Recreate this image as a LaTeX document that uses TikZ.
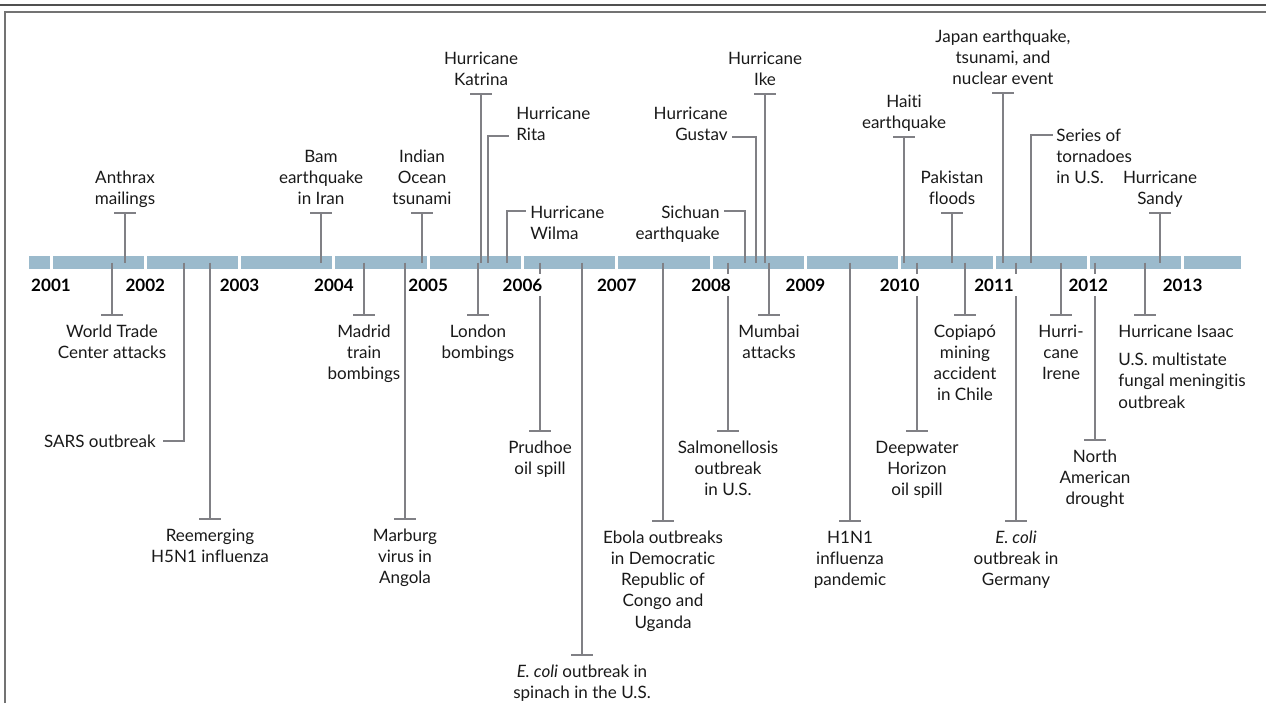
\documentclass[tikz,border=0pt]{standalone}
\usepackage{fontspec}
\setmainfont{Lato}[Ligatures=NoCommon]
\usepackage{xcolor}
\usepackage{tikz}
\usetikzlibrary{arrows.meta,positioning}
\definecolor{barra}{RGB}{155,186,204}
\definecolor{linea}{RGB}{128,128,133}
\definecolor{marco}{RGB}{80,80,80}
\definecolor{texto}{RGB}{25,25,25}

\begin{document}
\begin{tikzpicture}[x=0.02cm,y=-0.02cm,
ev/.style={font=\fontsize{9.7}{12}\selectfont,text=texto,inner sep=0pt,align=center},
evup/.style={ev,anchor=south,yshift=4pt,text depth=0pt},
evdn/.style={ev,anchor=north,yshift=-5pt},
stem/.style={draw=linea,line width=1.25pt},
tope/.style={stem,-{Bar[width=12pt]}},
anio/.style={font=\fontsize{9.7}{11}\selectfont\bfseries,text=black,fill=white,inner xsep=2pt,inner ysep=2.5pt},
seg/.style={fill=barra}
]
\useasboundingbox (0,0) rectangle (1266,703);
\draw[marco,line width=1.3pt] (0,5) -- (1266,5);
\draw[marco!80,line width=0.9pt] (5,703) -- (5,12) -- (1266,12);

% barra de tiempo
\fill[seg] (29,256) rectangle (49.5,269);
\foreach \i in {0,...,11}
  \fill[seg] ({52.5+\i*94.3},256) rectangle ({49.5+(\i+1)*94.3},269);
\fill[seg] (1184,256) rectangle (1241,269);
\coordinate (barc) at (0,262.5);

% eventos arriba
\node[evup] (anthrax) at (125,212) {Anthrax\\mailings};
\node[evup] (bam) at (321,212) {Bam\\earthquake\\in Iran};
\node[evup] (tsunami) at (422,212) {Indian\\Ocean\\tsunami};
\node[evup] (katrina) at (481,93) {Hurricane\\Katrina};
\node[evup] (ike) at (765,93) {Hurricane\\Ike};
\node[evup] (haiti) at (904,136) {Haiti\\earthquake};
\node[evup] (pakistan) at (952,212) {Pakistan\\floods};
\node[evup] (japan) at (1003,92) {Japan earthquake,\\tsunami, and\\nuclear event};
\node[evup] (sandy) at (1160,212) {Hurricane\\Sandy};

% eventos con codo
\coordinate (rita-k) at (488,136);
\node[ev,align=left,anchor=south west,text depth=0pt] (rita) at (516,141) {Hurricane\\Rita};
\coordinate (wilma-k) at (507,211);
\node[ev,align=left,anchor=north west] (wilma) at (530,206) {Hurricane\\Wilma};
\coordinate (sichuan-k) at (745,211);
\node[ev,align=right,anchor=north east] (sichuan) at (720,206) {Sichuan\\earthquake};
\coordinate (gustav-k) at (756,137);
\node[ev,align=right,anchor=south east,text depth=0pt] (gustav) at (728,141) {Hurricane\\Gustav};
\coordinate (tornados-k) at (1031,135);
\node[ev,align=left,anchor=north west] (tornados) at (1056,129) {Series of\\tornadoes\\in U.S.};
\coordinate (sars-k) at (184,441);
\node[ev,anchor=east] (sars) at (156,441) {SARS outbreak};

% eventos abajo
\node[evdn] (wtc) at (112,316) {World Trade\\Center attacks};
\node[evdn] (madrid) at (364,316) {Madrid\\train\\bombings};
\node[evdn] (london) at (478,316) {London\\bombings};
\node[evdn] (mumbai) at (769,316) {Mumbai\\attacks};
\node[evdn] (copiapo) at (965,316) {Copiapó\\mining\\accident\\in Chile};
\node[evdn] (irene) at (1061,316) {Hurri-\\cane\\Irene};
\coordinate (isaac-t) at (1145,316);
\node[evdn,anchor=north west,align=left] (isaac) at (1118,316) {Hurricane Isaac};
\node[ev,align=left,anchor=north west] (fungal) at (1118,353) {U.S. multistate\\fungal meningitis\\outbreak};
\node[evdn] (prudhoe) at (540,432) {Prudhoe\\oil spill};
\node[evdn] (salmonella) at (728,432) {Salmonellosis\\outbreak\\in U.S.};
\node[evdn] (deepwater) at (917,432) {Deepwater\\Horizon\\oil spill};
\node[evdn] (drought) at (1095,441) {North\\American\\drought};
\node[evdn] (reemerging) at (210,520) {Reemerging\\H5N1 influenza};
\node[evdn] (marburg) at (405,520) {Marburg\\virus in\\Angola};
\node[evdn] (ebola) at (663,522) {Ebola outbreaks\\in Democratic\\Republic of\\Congo and\\Uganda};
\node[evdn] (h1n1) at (850,522) {H1N1\\influenza\\pandemic};
\node[evdn] (ecolide) at (1016,522) {\textit{E. coli}\\outbreak in\\Germany};
\node[evdn] (ecolius) at (582,656) {\textit{E. coli} outbreak in\\spinach in the U.S.};

% lineas
\draw[tope] (anthrax.south |- barc) -- ([yshift=-4pt]anthrax.south);
\draw[tope] (bam.south |- barc) -- ([yshift=-4pt]bam.south);
\draw[tope] (tsunami.south |- barc) -- ([yshift=-4pt]tsunami.south);
\draw[tope] (katrina.south |- barc) -- ([yshift=-4pt]katrina.south);
\draw[tope] (ike.south |- barc) -- ([yshift=-4pt]ike.south);
\draw[tope] (haiti.south |- barc) -- ([yshift=-4pt]haiti.south);
\draw[tope] (pakistan.south |- barc) -- ([yshift=-4pt]pakistan.south);
\draw[tope] (japan.south |- barc) -- ([yshift=-4pt]japan.south);
\draw[tope] (sandy.south |- barc) -- ([yshift=-4pt]sandy.south);
\draw[stem] (rita-k |- barc) |- ([xshift=-4pt]rita.west |- rita-k);
\draw[stem] (wilma-k |- barc) |- ([xshift=-2pt]wilma.west |- wilma-k);
\draw[stem] (sichuan-k |- barc) |- ([xshift=2pt]sichuan.east |- sichuan-k);
\draw[stem] (gustav-k |- barc) |- ([xshift=2pt]gustav.east |- gustav-k);
\draw[stem] (tornados-k |- barc) |- ([xshift=-2pt]tornados.west |- tornados-k);
\draw[stem] (sars-k |- barc) |- ([xshift=4pt]sars.east |- sars-k);
\draw[tope] (wtc.north |- barc) -- ([yshift=5pt]wtc.north);
\draw[tope] (madrid.north |- barc) -- ([yshift=5pt]madrid.north);
\draw[tope] (london.north |- barc) -- ([yshift=5pt]london.north);
\draw[tope] (mumbai.north |- barc) -- ([yshift=5pt]mumbai.north);
\draw[tope] (copiapo.north |- barc) -- ([yshift=5pt]copiapo.north);
\draw[tope] (irene.north |- barc) -- ([yshift=5pt]irene.north);
\draw[tope] (isaac-t |- barc) -- (isaac-t);
\draw[tope] (prudhoe.north |- barc) -- ([yshift=5pt]prudhoe.north);
\draw[tope] (salmonella.north |- barc) -- ([yshift=5pt]salmonella.north);
\draw[tope] (deepwater.north |- barc) -- ([yshift=5pt]deepwater.north);
\draw[tope] (drought.north |- barc) -- ([yshift=5pt]drought.north);
\draw[tope] (reemerging.north |- barc) -- ([yshift=5pt]reemerging.north);
\draw[tope] (ebola.north |- barc) -- ([yshift=5pt]ebola.north);
\draw[tope] (h1n1.north |- barc) -- ([yshift=5pt]h1n1.north);
\draw[tope] (ecolide.north |- barc) -- ([yshift=5pt]ecolide.north);
\draw[tope] (ecolius.north |- barc) -- ([yshift=5pt]ecolius.north);

% anios
\foreach \a [count=\i from 0] in {2001,...,2013}
  \node[anio] (a\a) at ({51+\i*94.3},285) {\a};
\draw[tope] (marburg.north |- barc) -- ([yshift=5pt]marburg.north);
\end{tikzpicture}
\end{document}
